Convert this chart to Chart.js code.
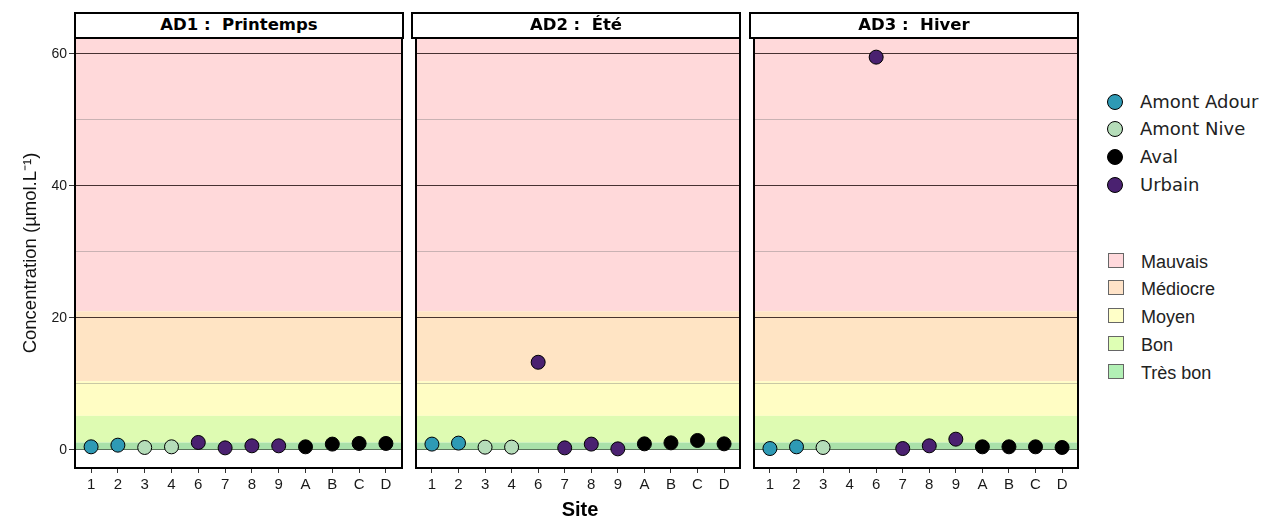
<!DOCTYPE html>
<html><head><meta charset="utf-8">
<script src="https://cdn.jsdelivr.net/npm/chart.js@4/dist/chart.umd.min.js"></script>
<style>
body{margin:0;width:1264px;height:518px;background:#fff;position:relative;overflow:hidden;font-family:"Liberation Sans",Arial,sans-serif;}
canvas{position:absolute;top:0;}
.strip{position:absolute;top:12px;height:27px;border:2px solid #000;background:#fff;box-sizing:border-box;text-align:center;font-family:"DejaVu Sans",Verdana,sans-serif;font-weight:bold;font-size:16.5px;line-height:22px;color:#000;white-space:pre;}
.xtitle{position:absolute;left:530px;width:100px;top:497px;text-align:center;font-weight:bold;font-size:20px;line-height:24px;color:#000;}
.lg{position:absolute;left:1108px;font-size:18px;color:#222;height:28px;line-height:28px;white-space:nowrap;}
.lg .c{position:absolute;left:0;top:6px;width:14px;height:14px;border:1px solid #000;border-radius:50%;}
.lg .s{position:absolute;left:0;top:5px;width:16px;height:15px;border:1px solid #666;box-sizing:border-box;}
.lg span.t{position:absolute;left:33px;top:0;}
</style>
</head><body>
<canvas id="p0" width="410" height="518" style="left:0px;width:410px;height:518px"></canvas>
<canvas id="p1" width="340" height="518" style="left:408px;width:340px;height:518px"></canvas>
<canvas id="p2" width="340" height="518" style="left:746px;width:340px;height:518px"></canvas>
<div id="strips"></div>
<div class="xtitle">Site</div>
<div id="legend"></div>
<script>
const sites = ['1','2','3','4','6','7','8','9','A','B','C','D'];
const siteGroup = ['Amont Adour','Amont Adour','Amont Nive','Amont Nive','Urbain','Urbain','Urbain','Urbain','Aval','Aval','Aval','Aval'];
const groups = ['Amont Adour','Amont Nive','Aval','Urbain'];
const groupColors = ['#2E9AB5','#B5DDB9','#000000','#4A2170'];
const panelTitles = ['AD1 :  Printemps','AD2 :  Été','AD3 :  Hiver'];
const ad1 = [0.46,0.71,0.36,0.46,1.12,0.30,0.61,0.61,0.46,0.87,0.97,0.97];
const ad2 = [0.87,1.02,0.41,0.41,13.27,0.30,0.87,0.15,0.91,1.06,1.42,0.91];
const ad3 = [0.20,0.46,0.36,null,59.5,0.20,0.61,1.62,0.46,0.46,0.46,0.36];
const yTickValues = [0,10,20,30,40,50,60];
const yTickLabels = ['0','','20','','40','','60'];
const classNames = ['Mauvais','Médiocre','Moyen','Bon','Très bon'];
const classLow = [21,10.4,5.15,1.1,0];
const classHigh = [62.4,21,10.4,5.15,1.1];
const classColors = ['#FFD9DA','#FFE4C4','#FFFDC4','#DEFBB2','#A9E1A9'];
const legendClassColors = ['#FFD9DC','#FFE3C8','#FFFFC8','#DEFFB4','#B2F0B5'];
const yTitle = 'Concentration (µmol.L⁻¹)';

const panelValues = [ad1, ad2, ad3];
const areaLeft = [75, 412, 750];
const areaWidth = 328;

const bandsPlugin = {
  id:'bands',
  beforeDraw(chart){
    const {ctx, chartArea:a, scales:{y}} = chart;
    ctx.save();
    for(let i=0;i<classNames.length;i++){
      const top = Math.max(a.top, y.getPixelForValue(classHigh[i]));
      const bot = Math.min(a.bottom, y.getPixelForValue(classLow[i]));
      ctx.fillStyle = classColors[i];
      ctx.fillRect(a.left, top, a.right-a.left, bot-top);
    }
    ctx.restore();
  },
  afterDraw(chart){
    const {ctx, chartArea:a} = chart;
    ctx.save();
    ctx.strokeStyle = '#000';
    ctx.lineWidth = 2;
    ctx.strokeRect(a.left, a.top, a.right-a.left, a.bottom-a.top);
    ctx.restore();
  }
};

function makePanel(idx){
  const vals = panelValues[idx];
  const first = idx===0;
  const datasets = groups.map((g,gi)=>({
    label:g,
    data: sites.map((s,i)=> (siteGroup[i]===g && vals[i]!==null) ? {x:i,y:vals[i]} : null).filter(Boolean),
    backgroundColor: groupColors[gi],
    borderColor:'#000',
    borderWidth:1,
    pointRadius:7,
    pointHoverRadius:7,
    showLine:false,
    clip:false
  }));
  const padLeft = first ? 0 : 4;
  const canvasW = first ? 410 : 340;
  new Chart(document.getElementById('p'+idx), {
    type:'scatter',
    data:{datasets},
    plugins:[bandsPlugin],
    options:{
      responsive:false,
      animation:false,
      events:[],
      layout:{padding:{left:padLeft, top:38, right: canvasW - (first?75:padLeft) - areaWidth, bottom:0}},
      plugins:{legend:{display:false}, tooltip:{enabled:false}},
      scales:{
        x:{
          type:'linear', min:-0.6, max:11.6,
          afterBuildTicks(s){ s.ticks = sites.map((_,i)=>({value:i})); },
          afterFit(s){ s.height = 50; },
          ticks:{ autoSkip:false, maxRotation:0, padding:3, color:'#1a1a1a',
            font:{family:'"Liberation Sans", Arial, sans-serif', size:15},
            callback:(v)=>sites[v] },
          grid:{ display:true, drawOnChartArea:false, drawTicks:true, tickLength:5, tickColor:'#333', tickWidth:1 },
          border:{display:false}
        },
        y:{
          type:'linear', min:-2.75, max:62.4,
          afterBuildTicks(s){ s.ticks = yTickValues.map(v=>({value:v})); },
          afterFit(s){ s.width = first ? 75 : 0; },
          ticks:{ display:first, padding:2, color:'#1a1a1a',
            font:{family:'"Liberation Sans", Arial, sans-serif', size:14},
            callback:(v)=> yTickLabels[yTickValues.indexOf(v)] },
          grid:{
            drawTicks:first, tickLength:6,
            tickColor:(c)=> (c.tick && c.tick.value%20===0) ? '#333' : 'rgba(0,0,0,0)',
            color:(c)=>{ const v=c.tick?c.tick.value:0; if(v===0) return 'rgba(0,0,0,0.5)'; return v%20===0 ? 'rgba(40,20,20,0.85)' : 'rgba(120,120,120,0.4)'; },
            lineWidth:1
          },
          border:{display:false},
          title:{ display:first, text:yTitle, color:'#111', padding:{top:20,bottom:0},
            font:{family:'"Liberation Sans", Arial, sans-serif', size:18.5} }
        }
      }
    }
  });
}
[0,1,2].forEach(makePanel);

const strips = document.getElementById('strips');
panelTitles.forEach((t,i)=>{
  const d=document.createElement('div');
  d.className='strip';
  d.style.left=(areaLeft[i]-1)+'px';
  d.style.width=(areaWidth+2)+'px';
  d.textContent=t;
  strips.appendChild(d);
});

const lg = document.getElementById('legend');
const groupRows=[88,115,143,171];
groups.forEach((g,i)=>{
  const r=document.createElement('div');
  r.className='lg';
  r.style.top=groupRows[i]+'px';
  r.style.left='1107px';
  r.style.fontFamily='"DejaVu Sans", Verdana, sans-serif';
  r.innerHTML='<div class="c" style="background:'+groupColors[i]+'"></div><span class="t">'+g+'</span>';
  lg.appendChild(r);
});
const classRows=[247.5,274.5,302.5,331,359];
classNames.forEach((n,i)=>{
  const r=document.createElement('div');
  r.className='lg';
  r.style.top=classRows[i]+'px';
  r.innerHTML='<div class="s" style="background:'+legendClassColors[i]+'"></div><span class="t">'+n+'</span>';
  lg.appendChild(r);
});
</script>
</body></html>
